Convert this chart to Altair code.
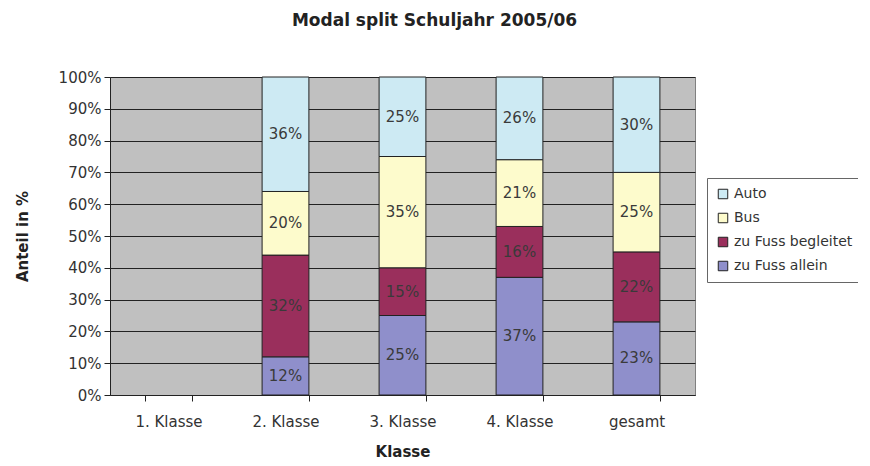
import altair as alt
import pandas as pd

klassen = ["1. Klasse", "2. Klasse", "3. Klasse", "4. Klasse", "gesamt"]
modes = ["Auto", "Bus", "zu Fuss begleitet", "zu Fuss allein"]
stack_order = {"zu Fuss allein": 0, "zu Fuss begleitet": 1, "Bus": 2, "Auto": 3}

allein = [None, 12, 25, 37, 23]
begleitet = [None, 32, 15, 16, 22]
bus = [None, 20, 35, 21, 25]
auto = [None, 36, 25, 26, 30]

colors = ["#cdeaf3", "#fdfbcc", "#9a2f5c", "#8f8fcb"]
y_ticks = [0, 10, 20, 30, 40, 50, 60, 70, 80, 90, 100]

rows = []
for mode, vals in [("zu Fuss allein", allein), ("zu Fuss begleitet", begleitet),
                   ("Bus", bus), ("Auto", auto)]:
    for k, v in zip(klassen, vals):
        if v is not None:
            rows.append({"Klasse": k, "Modus": mode, "Wert": v, "ord": stack_order[mode]})
df = pd.DataFrame(rows)

FONT = "DejaVu Sans"

xscale = alt.Scale(domain=klassen, paddingInner=0.6, paddingOuter=0.3)
yscale = alt.Scale(domain=[0, 100], nice=False)

xaxis = alt.Axis(title="Klasse", labelAngle=0, tickBand="extent",
                 labelFontSize=15, labelColor="#333", labelFont=FONT,
                 labelPadding=13, tickSize=6, tickColor="#222",
                 domainColor="#222", titleFontSize=15, titleFont=FONT,
                 titleFontWeight="bold", titleColor="#222",
                 titlePadding=15, grid=False)

yaxis = alt.Axis(title="Anteil in %", values=y_ticks, labelOverlap=False,
                 labelExpr="datum.value + '%'", labelFontSize=15,
                 labelFont=FONT, labelColor="#333", tickSize=6,
                 tickColor="#222", domainColor="#222",
                 gridColor="#222", gridWidth=1, labelPadding=3,
                 titleFontSize=15, titleFont=FONT, titleFontWeight="bold",
                 titleColor="#222", titleX=-88, titleY=159,
                 titleAngle=-90, titleAlign="center",
                 titleBaseline="middle")

base = alt.Chart(df).transform_stack(
    stack="Wert", groupby=["Klasse"], sort=[alt.SortField("ord")], as_=["y0", "y1"]
).transform_calculate(mid="(datum.y0 + datum.y1) / 2", lbl="datum.Wert + '%'")

bars = base.mark_bar(stroke="#222", strokeWidth=1).encode(
    x=alt.X("Klasse:N", scale=xscale, axis=xaxis),
    y=alt.Y("y0:Q", scale=yscale, axis=yaxis),
    y2="y1:Q",
    color=alt.Color("Modus:N", scale=alt.Scale(domain=modes, range=colors),
                    legend=alt.Legend(title=None, orient="none", legendX=597,
                                      legendY=101, symbolType="square",
                                      symbolSize=90, symbolStrokeColor="#222",
                                      symbolStrokeWidth=1, labelFontSize=14,
                                      labelFont=FONT, labelColor="#333",
                                      strokeColor="#666", fillColor="white",
                                      padding=9, rowPadding=10,
                                      labelLimit=300)),
)

labels = base.mark_text(fontSize=15, font=FONT, color="#3a3a3a").encode(
    x=alt.X("Klasse:N", scale=xscale, axis=xaxis),
    y=alt.Y("mid:Q", scale=yscale, axis=yaxis),
    text="lbl:N",
)

chart = alt.layer(bars, labels).properties(
    width=585, height=318,
    autosize="none",
    padding={"left": 102, "top": 69, "right": 163, "bottom": 72},
    title=alt.TitleParams("Modal split Schuljahr 2005/06", fontSize=17,
                          font=FONT, fontWeight="bold", color="#222",
                          anchor="middle", dx=32, offset=40),
).configure_view(fill="#c0c0c0", stroke="#808080", strokeWidth=1)

chart.save("out.html", embed_options={"renderer": "svg", "actions": False})
